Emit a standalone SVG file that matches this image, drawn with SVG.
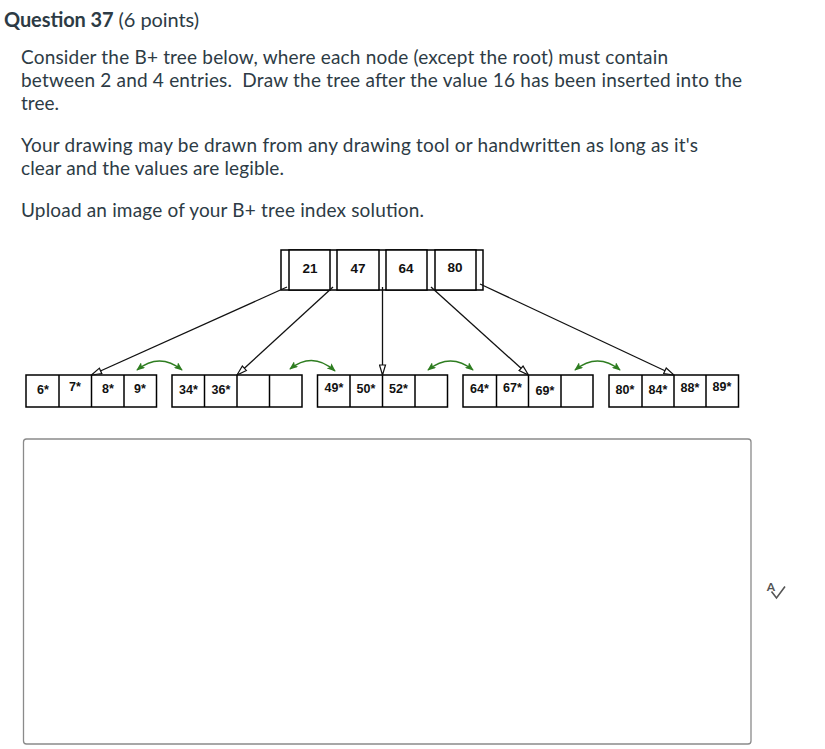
<svg xmlns="http://www.w3.org/2000/svg" width="825" height="749" viewBox="0 0 825 749">
<style>
.q{font-family:Lato,"Open Sans","Liberation Sans",sans-serif;fill:#2d3b45;font-size:19px}
.t{font-family:Lato,"Open Sans","Liberation Sans",sans-serif;fill:#2d3b45;font-size:20px}
.box{fill:#fff;stroke:#000;stroke-width:1.5}
.k{font-family:"Liberation Sans",Arial,sans-serif;font-weight:bold;font-size:13.5px;fill:#111;text-anchor:middle}
.lv{font-family:"Liberation Sans",Arial,sans-serif;font-weight:bold;font-size:12.5px;fill:#111;text-anchor:middle}
.ptr{stroke:#111;stroke-width:1.3;fill:none;marker-end:url(#open)}
.sib{stroke:#2e7d20;stroke-width:1.6;fill:none;marker-start:url(#grn);marker-end:url(#grn)}
</style>
<defs>
<marker id="open" viewBox="0 0 12 8" refX="11" refY="4" markerWidth="12" markerHeight="8" markerUnits="userSpaceOnUse" orient="auto">
<path d="M1,1 L11,4 L1,7 z" fill="#fff" stroke="#111" stroke-width="1.2"/>
</marker>
<marker id="grn" viewBox="0 0 10 8" refX="9" refY="4" markerWidth="9" markerHeight="7" markerUnits="userSpaceOnUse" orient="auto-start-reverse">
<path d="M0,0 L10,4 L0,8 L2,4 z" fill="#2e7d20"/>
</marker>
</defs>
<rect width="825" height="749" fill="#fff"/>

<g id="question-text">
<text class="t" x="4" y="27" textLength="195" lengthAdjust="spacing"><tspan font-weight="bold">Question 37</tspan> (6 points)</text>
<text class="q" x="21" y="64" textLength="647" lengthAdjust="spacing">Consider the B+ tree below, where each node (except the root) must contain</text>
<text class="q" x="21" y="87" textLength="721" lengthAdjust="spacing">between 2 and 4 entries.&#160; Draw the tree after the value 16 has been inserted into the</text>
<text class="q" x="21" y="110" textLength="38" lengthAdjust="spacing">tree.</text>
<text class="q" x="21" y="152" textLength="677" lengthAdjust="spacing">Your drawing may be drawn from any drawing tool or handwritten as long as it's</text>
<text class="q" x="21" y="175" textLength="263" lengthAdjust="spacing">clear and the values are legible.</text>
<text class="q" x="21" y="217" textLength="403" lengthAdjust="spacing">Upload an image of your B+ tree index solution.</text>
</g>

<g id="root">
<rect class="box" x="281" y="250" width="202" height="40"/>
<rect class="box" x="289" y="250" width="41" height="40"/>
<rect class="box" x="337" y="250" width="42" height="40"/>
<rect class="box" x="386" y="250" width="41" height="40"/>
<rect class="box" x="435" y="250" width="41" height="40"/>
<text class="k" x="310" y="273">21</text>
<text class="k" x="358" y="273">47</text>
<text class="k" x="406" y="273">64</text>
<text class="k" x="455" y="272">80</text>
</g>

<g id="leaf1">
<rect class="box" x="26" y="375" width="130.5" height="32"/>
<line class="box" x1="59" y1="375" x2="59" y2="407"/>
<line class="box" x1="91.5" y1="375" x2="91.5" y2="407"/>
<line class="box" x1="124" y1="375" x2="124" y2="407"/>
<text class="lv" x="43" y="394">6*</text>
<text class="lv" x="75" y="391">7*</text>
<text class="lv" x="108" y="393">8*</text>
<text class="lv" x="140" y="393">9*</text>
</g>

<g id="leaf2">
<rect class="box" x="172" y="375" width="130" height="32"/>
<line class="box" x1="204.5" y1="375" x2="204.5" y2="407"/>
<line class="box" x1="237" y1="375" x2="237" y2="407"/>
<line class="box" x1="269.5" y1="375" x2="269.5" y2="407"/>
<text class="lv" x="188.5" y="394">34*</text>
<text class="lv" x="221" y="394">36*</text>
</g>

<g id="leaf3">
<rect class="box" x="317.5" y="375" width="130" height="32"/>
<line class="box" x1="350" y1="375" x2="350" y2="407"/>
<line class="box" x1="382.5" y1="375" x2="382.5" y2="407"/>
<line class="box" x1="415" y1="375" x2="415" y2="407"/>
<text class="lv" x="334" y="392">49*</text>
<text class="lv" x="366" y="393">50*</text>
<text class="lv" x="398.5" y="393">52*</text>
</g>

<g id="leaf4">
<rect class="box" x="463" y="375" width="130" height="32"/>
<line class="box" x1="496.5" y1="375" x2="496.5" y2="407"/>
<line class="box" x1="528.5" y1="375" x2="528.5" y2="407"/>
<line class="box" x1="561" y1="375" x2="561" y2="407"/>
<text class="lv" x="479.5" y="393">64*</text>
<text class="lv" x="512.5" y="392">67*</text>
<text class="lv" x="545" y="395">69*</text>
</g>

<g id="leaf5">
<rect class="box" x="609" y="375" width="129.5" height="32"/>
<line class="box" x1="642" y1="375" x2="642" y2="407"/>
<line class="box" x1="674" y1="375" x2="674" y2="407"/>
<line class="box" x1="706" y1="375" x2="706" y2="407"/>
<text class="lv" x="625" y="393.5">80*</text>
<text class="lv" x="658" y="394">84*</text>
<text class="lv" x="690" y="392">88*</text>
<text class="lv" x="722" y="391">89*</text>
</g>

<g id="connectors">
<line class="ptr" x1="287" y1="287" x2="91.5" y2="375"/>
<line class="ptr" x1="333" y1="287" x2="237" y2="375"/>
<line class="ptr" x1="382.5" y1="287" x2="382.5" y2="375"/>
<line class="ptr" x1="431" y1="287" x2="528.5" y2="375"/>
<line class="ptr" x1="480" y1="284" x2="674" y2="375"/>
<path class="sib" d="M137,370 Q159.5,352 182,370"/>
<path class="sib" d="M290,369 Q312.5,351 335,371"/>
<path class="sib" d="M428,370 Q450.5,352 473,370"/>
<path class="sib" d="M575,370 Q597.5,352 620,370"/>
</g>

<g id="answer-box">
<rect x="23.5" y="439" width="727.5" height="305" rx="3" ry="3" fill="#fff" stroke="#8a8a8a" stroke-width="1.3"/>
</g>

<g id="spellcheck-icon">
<text x="771" y="590.5" font-family="Lato,'Liberation Sans',sans-serif" font-size="12" font-weight="bold" fill="#555" text-anchor="middle">A</text>
<polyline points="771.5,591.5 776.5,598 785,586.5" fill="none" stroke="#555" stroke-width="1.6"/>
</g>
</svg>
